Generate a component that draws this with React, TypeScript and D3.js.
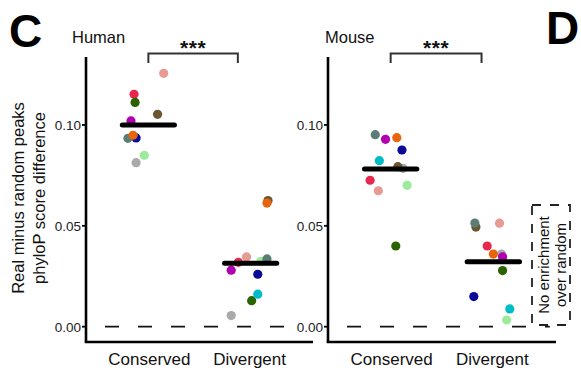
import * as d3 from 'd3';

// colour of each species, in drawing order (back to front)
const speciesColors = [
  '#aaaaaa', '#6b5630', '#9ceb9c', '#5b7d75', '#0a0a96', '#e89a94',
  '#e8274f', '#e8650c', '#b000b0', '#2a6400', '#00bcc8',
];

const categories = ['Conserved', 'Divergent'];

// phyloP difference per species (same order as colours); null = not shown
const humanConserved = [0.0813, 0.1053, 0.085, 0.0934, 0.0936, 0.1256, 0.1152, 0.0949, 0.102, 0.1112, null];
const humanDivergent = [0.0055, 0.0625, 0.0324, 0.0336, 0.026, 0.0346, 0.0319, 0.0613, 0.028, 0.0129, 0.0161];
const mouseConserved = [0.0785, 0.0793, 0.0701, 0.0952, 0.0876, 0.0674, 0.0726, 0.0937, 0.0929, 0.04, 0.0823];
const mouseDivergent = [0.036, 0.0494, 0.0033, 0.0514, 0.0149, 0.0513, 0.04, 0.036, 0.0346, 0.0278, 0.0088];

// horizontal jitter (category units)
const humanConservedJitter = [-0.12, 0.09, -0.04, -0.2, -0.12, 0.15, -0.14, -0.15, -0.17, -0.13, 0.0];
const humanDivergentJitter = [-0.19, 0.17, 0.1, 0.16, 0.07, -0.04, -0.12, 0.16, -0.19, 0.01, 0.07];
const mouseConservedJitter = [0.12, 0.07, 0.16, -0.15, 0.11, -0.12, -0.2, 0.06, -0.05, 0.05, -0.11];
const mouseDivergentJitter = [0.08, -0.17, 0.13, -0.18, -0.19, 0.06, -0.06, 0.0, 0.09, 0.09, 0.16];

const humanMedians = [0.1, 0.0314];
const mouseMedians = [0.0782, 0.0322];

const yTicks = [0, 0.05, 0.1];

const FONT = "'Liberation Sans', Arial, Helvetica, sans-serif";

const y = d3.scaleLinear().domain([-0.0076, 0.1337]).range([342, 57]);

type PanelProps = {
  title: string;
  titleX: number;
  x0: number;
  x1: number;
  values: (number | null)[][];
  jitter: number[][];
  medians: number[];
  dashEnd: number;
  bracketEnd: number;
};

const Panel = ({ title, titleX, x0, x1, values, jitter, medians, dashEnd, bracketEnd }: PanelProps) => {
  const x = d3.scaleLinear().domain([-0.61, 1.61]).range([x0, x1]);
  const bracketY = 53.5;
  const bracketMid = (x(0) + x(bracketEnd)) / 2;
  return (
    <g>
      {/* zero reference */}
      <line
        x1={x0}
        x2={x(dashEnd)}
        y1={y(0)}
        y2={y(0)}
        stroke="#111"
        strokeWidth={1.6}
        strokeDasharray="14,19"
        strokeDashoffset={-19}
      />
      {/* points */}
      {values.map((vals, ci) =>
        vals.map((v, i) =>
          v == null ? null : (
            <circle
              key={`${ci}-${i}`}
              cx={x(ci + jitter[ci][i])}
              cy={y(v)}
              r={4.6}
              fill={speciesColors[i]}
            />
          )
        )
      )}
      {/* medians */}
      {medians.map((m, ci) => (
        <line
          key={ci}
          x1={x(ci - 0.255)}
          x2={x(ci + 0.255)}
          y1={y(m)}
          y2={y(m)}
          stroke="#000"
          strokeWidth={5}
          strokeLinecap="round"
        />
      ))}
      {/* axes */}
      <line x1={x0} x2={x0} y1={57} y2={342} stroke="#000" strokeWidth={2.6} />
      <line x1={x0 - 1.3} x2={x1} y1={342} y2={342} stroke="#000" strokeWidth={2.6} />
      {yTicks.map(t => (
        <g key={t}>
          <line x1={x0 - 4} x2={x0} y1={y(t)} y2={y(t)} stroke="#000" strokeWidth={1.8} />
          <text
            x={x0 - 5}
            y={y(t)}
            dy="0.36em"
            textAnchor="end"
            fontSize={13.5}
            fontFamily={FONT}
            fill="#222"
          >
            {d3.format('.2f')(t)}
          </text>
        </g>
      ))}
      {categories.map((c, ci) => (
        <text
          key={c}
          x={x(ci) + (ci === 0 ? 1 : -1)}
          y={365}
          textAnchor="middle"
          fontSize={17}
          fontFamily={FONT}
          fill="#111"
        >
          {c}
        </text>
      ))}
      {/* title and significance bracket */}
      <text x={titleX} y={43} fontSize={16.5} fontFamily={FONT} fill="#111">
        {title}
      </text>
      <path
        d={`M${x(0)},63 V${bracketY} H${x(bracketEnd)} V63`}
        fill="none"
        stroke="#333"
        strokeWidth={2}
      />
      <text
        x={bracketMid}
        y={55}
        textAnchor="middle"
        fontSize={21}
        fontWeight="bold"
        letterSpacing={0.5}
        fontFamily={FONT}
        fill="#111"
      >
        ***
      </text>
    </g>
  );
};

export default function App() {
  return (
    <svg
      width={581}
      height={372}
      style={{ position: 'absolute', left: 0, top: 0, background: '#fff' }}
    >
      <rect width={581} height={372} fill="#fff" />
      <text x={9} y={47} fontSize={46} fontWeight="bold" fontFamily={FONT} fill="#000">
        C
      </text>
      <text x={546} y={44} fontSize={46} fontWeight="bold" fontFamily={FONT} fill="#000">
        D
      </text>

      <g transform="translate(24,198) rotate(-90)">
        <text textAnchor="middle" fontSize={16.5} fontFamily={FONT} fill="#111">
          Real minus random peaks
        </text>
      </g>
      <g transform="translate(45,198) rotate(-90)">
        <text textAnchor="middle" fontSize={16.5} fontFamily={FONT} fill="#111">
          phyloP score difference
        </text>
      </g>

      <Panel
        title="Human"
        titleX={72}
        x0={86}
        x1={313}
        values={[humanConserved, humanDivergent]}
        jitter={[humanConservedJitter, humanDivergentJitter]}
        medians={humanMedians}
        dashEnd={1.36}
        bracketEnd={0.875}
      />
      <Panel
        title="Mouse"
        titleX={325}
        x0={328}
        x1={556}
        values={[mouseConserved, mouseDivergent]}
        jitter={[mouseConservedJitter, mouseDivergentJitter]}
        medians={mouseMedians}
        dashEnd={1.55}
        bracketEnd={0.885}
      />

      {/* annotation box */}
      <rect
        x={532}
        y={205}
        width={38}
        height={120}
        fill="#fff"
        stroke="#222"
        strokeWidth={1.8}
        strokeDasharray="9,9"
      />
      <g transform="translate(549,265) rotate(-90)">
        <text textAnchor="middle" fontSize={15} fontFamily={FONT} fill="#111">
          No enrichment
        </text>
      </g>
      <g transform="translate(566,265) rotate(-90)">
        <text textAnchor="middle" fontSize={15} fontFamily={FONT} fill="#111">
          over random
        </text>
      </g>
    </svg>
  );
}
